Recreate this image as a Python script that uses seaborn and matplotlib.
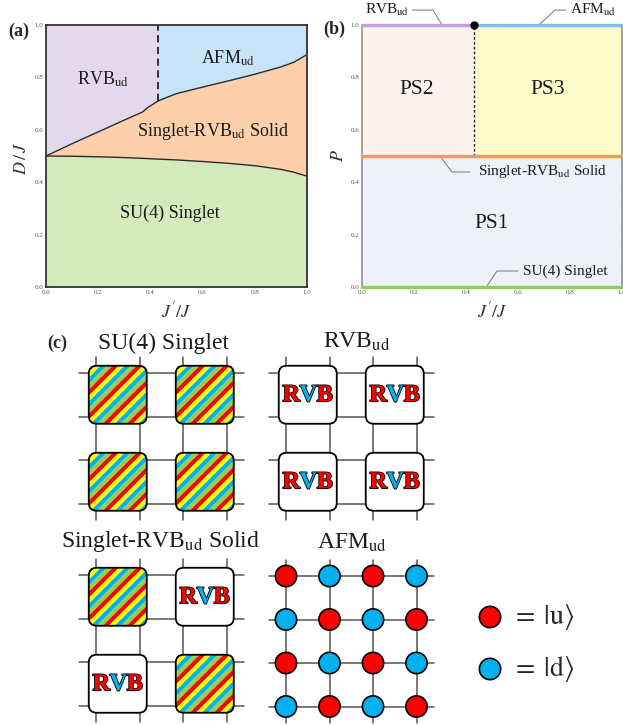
import numpy as np
import pandas as pd
import matplotlib.pyplot as plt
import matplotlib.patheffects as pe
from matplotlib.patches import FancyBboxPatch, Polygon
import seaborn as sns

sns.set_style("ticks")
plt.rcParams['font.family'] = ['Liberation Serif', 'DejaVu Serif']
plt.rcParams['mathtext.fontset'] = 'stix'

# ---- panel (a): phase boundaries
jp = [0.0, 0.1, 0.2, 0.3, 0.37, 0.39, 0.431, 0.5, 0.6, 0.7, 0.8, 0.9, 0.95, 1.0]
d_upper = [0.5, 0.547, 0.592, 0.637, 0.668, 0.685, 0.711, 0.738, 0.763, 0.787, 0.812, 0.84, 0.858, 0.887]
d_lower = [0.5, 0.499, 0.497, 0.494, 0.491, 0.49, 0.488, 0.485, 0.479, 0.472, 0.463, 0.449, 0.438, 0.423]
jp_crit = 0.431

a_names = ["RVB$_{\\rm ud}$", "AFM$_{\\rm ud}$", "Singlet-RVB$_{\\rm ud}$ Solid", "SU(4) Singlet"]
a_colors = ["#e4d9ec", "#c7e3f8", "#fdd0ab", "#d5eabb"]
a_label_xy = [(0.218, 0.794), (0.697, 0.874), (0.64, 0.592), (0.475, 0.282)]

# ---- panel (b): phase-separated regions and single-phase lines
b_regions = ["PS1", "PS2", "PS3"]
b_region_colors = ["#eef1f8", "#fdf3ee", "#fdfcca"]
b_region_label_xy = [(0.5, 0.244), (0.212, 0.752), (0.715, 0.752)]
b_lines = ["RVB$_{\\rm ud}$", "AFM$_{\\rm ud}$", "Singlet-RVB$_{\\rm ud}$ Solid", "SU(4) Singlet"]
b_line_p = [1.0, 1.0, 0.5, 0.0]
b_line_x0 = [0.0, jp_crit, 0.0, 0.0]
b_line_x1 = [jp_crit, 1.0, 1.0, 1.0]
b_line_colors = ["#c49fdc", "#7dbff5", "#fb9a4b", "#8ccf55"]

# ---- panel (c): lattice cartoons
su4_plaq = [["S", "S"], ["S", "S"]]
rvb_plaq = [["R", "R"], ["R", "R"]]
srs_plaq = [["S", "R"], ["R", "S"]]
afm_spins = [["u", "d", "u", "d"],
             ["d", "u", "d", "u"],
             ["u", "d", "u", "d"],
             ["d", "u", "d", "u"]]
stripe_colors = ["#ff0000", "#ffff00", "#00b0f0", "#92d050"]
spin_colors = {"u": "#ff0000", "d": "#00b0f0"}

W, H = 623, 725
fig = plt.figure(figsize=(W / 100, H / 100), dpi=100)
axc = fig.add_axes([0, 0, 1, 1], zorder=-1)
axa = fig.add_axes([46 / W, 1 - 287 / H, 261 / W, 262 / H])
axb = fig.add_axes([362 / W, 1 - 287 / H, 260 / W, 262 / H])


def style_axes(ax, spine_col):
    ax.set_xlim(0, 1)
    ax.set_ylim(0, 1)
    ax.set_xticks(np.arange(0, 1.01, 0.2))
    ax.set_yticks(np.arange(0, 1.01, 0.2))
    ax.set_xticks(np.arange(0, 1.01, 0.05), minor=True)
    ax.set_yticks(np.arange(0, 1.01, 0.05), minor=True)
    ax.set_xticklabels([f"{v:.1f}" for v in np.arange(0, 1.01, 0.2)])
    ax.set_yticklabels([f"{v:.1f}" for v in np.arange(0, 1.01, 0.2)])
    ax.tick_params(which='both', direction='in', top=True, right=True,
                   labelsize=5, labelcolor='#555555', color='#777777', pad=2)
    ax.tick_params(which='major', length=3, width=0.6)
    ax.tick_params(which='minor', length=1.5, width=0.5)
    for s in ax.spines.values():
        s.set_color(spine_col)
        s.set_linewidth(1.3)


# ---------------- panel (a)
up = np.array(d_upper)
lo = np.array(d_lower)
x = np.array(jp)
axa.fill_between(x, 0, lo, color=a_colors[3], lw=0)
axa.fill_between(x, lo, up, color=a_colors[2], lw=0)
axa.fill_between(x, up, 1, where=x <= jp_crit, color=a_colors[0], lw=0)
axa.fill_between(x, up, 1, where=x >= jp_crit, color=a_colors[1], lw=0)
sns.lineplot(x=jp, y=d_upper, ax=axa, color='#2b2b2b', lw=1, sort=False, estimator=None)
sns.lineplot(x=jp, y=d_lower, ax=axa, color='#2b2b2b', lw=1, sort=False, estimator=None)
axa.plot([jp_crit, jp_crit], [d_upper[jp.index(jp_crit)], 1], color='#222222', lw=1.3, ls=(0, (4, 2.5)))
for name, (lx, ly) in zip(a_names, a_label_xy):
    axa.text(lx, ly, name, ha='center', va='center', fontsize=13, color='#1a1a1a')
style_axes(axa, '#333333')
axa.set_xlabel("$J'/J$", fontsize=13, color='#333333')
axa.set_ylabel("$D\\,/\\,J$", fontsize=13, color='#333333')
axa.xaxis.set_label_coords(0.5, -0.055)
axa.yaxis.set_label_coords(-0.062, 0.49)

# ---------------- panel (b)
axb.fill_between([0, 1], 0, 0.5, color=b_region_colors[0], lw=0)
axb.fill_between([0, jp_crit], 0.5, 1, color=b_region_colors[1], lw=0)
axb.fill_between([jp_crit, 1], 0.5, 1, color=b_region_colors[2], lw=0)
for name, (lx, ly) in zip(b_regions, b_region_label_xy):
    axb.text(lx, ly, name, ha='center', va='center', fontsize=15.5, color='#1a1a1a')
axb.plot([jp_crit, jp_crit], [0.5, 1], color='#222222', lw=1, ls=(0, (2, 1.5)))
for p, x0, x1, c in zip(b_line_p, b_line_x0, b_line_x1, b_line_colors):
    sns.lineplot(x=[x0, x1], y=[p, p], ax=axb, color=c, lw=2.4, clip_on=False, zorder=5)
axb.plot([jp_crit], [1.0], 'o', color='black', ms=5, clip_on=False, zorder=6)

# leader lines and annotations
leaders = [
    ([0.308, 0.273, 0.192], [1.0, 1.057, 1.057], (0.18, 1.057, 'right')),
    ([0.685, 0.742, 0.785], [1.004, 1.057, 1.057], (0.80, 1.057, 'left')),
    ([0.30, 0.346, 0.415], [0.5, 0.439, 0.439], (0.446, 0.439, 'left')),
    ([0.481, 0.519, 0.6], [0.004, 0.061, 0.061], (0.62, 0.061, 'left')),
]
for name, (lxs, lys, (tx, ty, ha)) in zip(b_lines, leaders):
    axb.plot(lxs, lys, color='#777777', lw=0.7, clip_on=False, zorder=4)
    axb.text(tx, ty, name, ha=ha, va='center', fontsize=11, color='#1a1a1a', clip_on=False)
style_axes(axb, '#999999')
axb.set_xlabel("$J'/J$", fontsize=13, color='#333333')
axb.set_ylabel("$P$", fontsize=13, color='#333333')
axb.xaxis.set_label_coords(0.5, -0.055)
axb.yaxis.set_label_coords(-0.058, 0.5)

fig.text(19 / W, 1 - 31 / H, "(a)", fontsize=13, fontweight='bold', ha='center', va='center')
fig.text(334 / W, 1 - 29 / H, "(b)", fontsize=13, fontweight='bold', ha='center', va='center')
fig.text(57 / W, 1 - 343 / H, "(c)", fontsize=13, fontweight='bold', ha='center', va='center')

# ---------------- panel (c): cartoons in pixel coordinates
d = 43.5
plaq = 58
rad = 8
line_col = '#555555'


def lattice(ax, x0, y0):
    for i in range(4):
        ax.plot([x0 - 17, x0 + 3 * d + 17], [y0 + i * d] * 2, color=line_col, lw=1.1, zorder=1)
        ax.plot([x0 + i * d] * 2, [y0 - 16, y0 + 3 * d + 16], color=line_col, lw=1.1, zorder=1)


def box(cx, cy, fc, z):
    return FancyBboxPatch((cx - plaq / 2 + rad, cy - plaq / 2 + rad), plaq - 2 * rad, plaq - 2 * rad,
                          boxstyle=f"round,pad={rad}", fc=fc, ec='black' if fc == 'none' else 'none',
                          lw=1.3, zorder=z)


def singlet(ax, cx, cy):
    base = box(cx, cy, 'white', 2)
    ax.add_patch(base)
    w = 6.0
    a0 = cx + cy - plaq
    L = plaq
    for k in range(int(2 * plaq / w) + 2):
        a = a0 + k * w
        poly = Polygon([(cx - L, a - cx + L), (cx + L, a - cx - L),
                        (cx + L, a + w - cx - L), (cx - L, a + w - cx + L)],
                       closed=True, fc=stripe_colors[k % 4], ec='none', zorder=3)
        ax.add_patch(poly)
        poly.set_clip_path(base)
    ax.add_patch(box(cx, cy, 'none', 4))


def rvb(ax, cx, cy):
    ax.add_patch(box(cx, cy, 'white', 2))
    ax.add_patch(box(cx, cy, 'none', 4))
    stroke = [pe.withStroke(linewidth=1.2, foreground='black')]
    for dx, ch, col in [(-16.5, "R", "#ff0000"), (0.5, "V", "#00b0f0"), (17, "B", "#ff0000")]:
        ax.text(cx + dx, cy + 1, ch, color=col, fontsize=17.5, fontweight='bold',
                ha='center', va='center', zorder=5, path_effects=stroke)


def plaquettes(ax, x0, y0, kinds):
    lattice(ax, x0, y0)
    for r, row in enumerate(kinds):
        for c, k in enumerate(row):
            cx = x0 + d / 2 + 2 * c * d
            cy = y0 + d / 2 + 2 * r * d
            if k == "S":
                singlet(ax, cx, cy)
            else:
                rvb(ax, cx, cy)


plaquettes(axc, 96, 373, su4_plaq)
plaquettes(axc, 286, 373, rvb_plaq)
plaquettes(axc, 96, 575, srs_plaq)

# AFM lattice
lattice(axc, 286, 576)
afm = pd.DataFrame([(286 + c * d, 576 + r * d, s)
                    for r, row in enumerate(afm_spins) for c, s in enumerate(row)],
                   columns=["x", "y", "spin"])
sns.scatterplot(data=afm, x="x", y="y", hue="spin", palette=spin_colors, s=235,
                edgecolor='black', linewidth=1.2, legend=False, ax=axc, zorder=5)

# spin legend
leg = pd.DataFrame({"x": [490, 490], "y": [617, 669], "spin": ["u", "d"]})
sns.scatterplot(data=leg, x="x", y="y", hue="spin", palette=spin_colors, s=235,
                edgecolor='black', linewidth=1.2, legend=False, ax=axc, zorder=5)
axc.text(511, 617, "$=\\;|\\mathrm{u}\\rangle$", fontsize=20, ha='left', va='center')
axc.text(511, 669, "$=\\;|\\mathrm{d}\\rangle$", fontsize=20, ha='left', va='center')

titles = ["SU(4) Singlet", "RVB$_{\\rm ud}$", "Singlet-RVB$_{\\rm ud}$ Solid", "AFM$_{\\rm ud}$"]
title_xy = [(163, 343), (357, 342), (160, 542), (352, 543)]
for t, (tx, ty) in zip(titles, title_xy):
    axc.text(tx, ty, t, fontsize=17, ha='center', va='center', color='#1a1a1a')

axc.set_xlim(0, W)
axc.set_ylim(H, 0)
axc.axis('off')

fig.savefig("out.png", dpi=100)
